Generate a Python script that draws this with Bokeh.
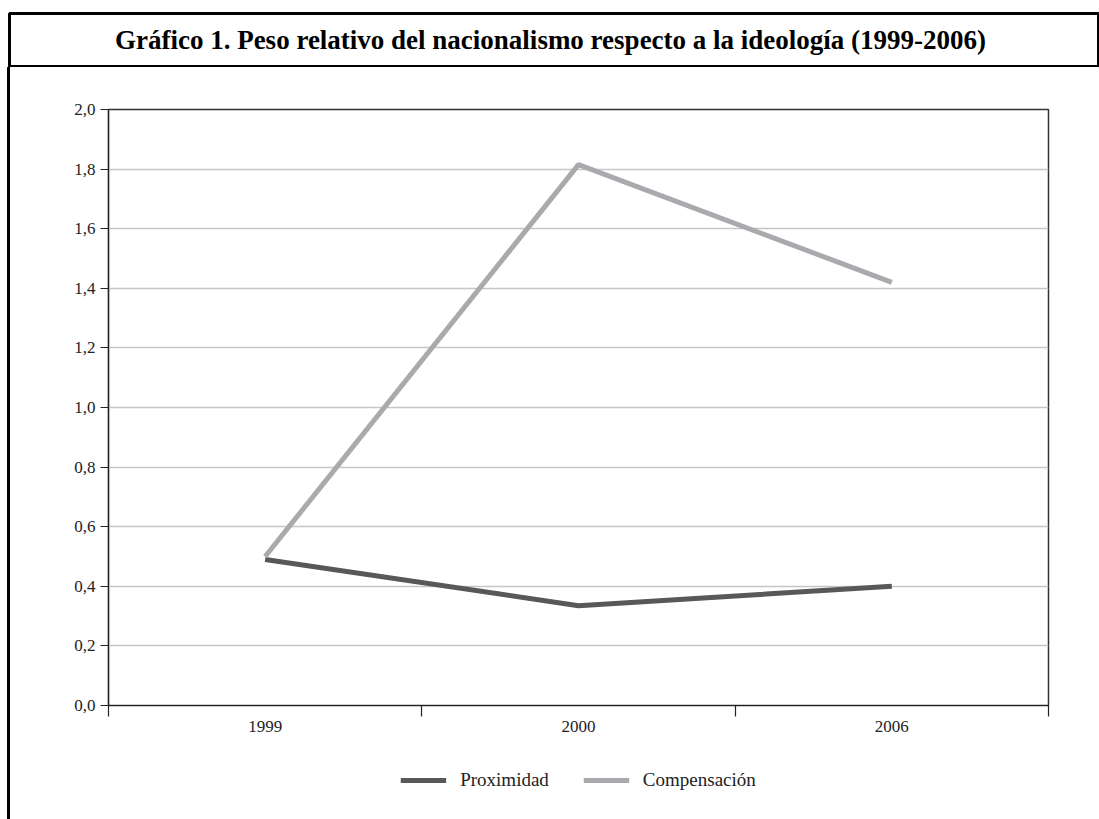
from bokeh.plotting import figure
from bokeh.layouts import column, row
from bokeh.models import (Range1d, FixedTicker, Legend, LegendItem, Label, Spacer)
from bokeh.embed import file_html
from bokeh.resources import INLINE

# ---- data ----
title_text = "Gráfico 1. Peso relativo del nacionalismo respecto a la ideología (1999-2006)"
years = ["1999", "2000", "2006"]
proximidad = [0.49, 0.335, 0.40]
compensacion = [0.50, 1.815, 1.42]
series_names = ["Proximidad", "Compensación"]
series_colors = ["#58585a", "#a9aaad"]
y_ticks = [0.0, 0.2, 0.4, 0.6, 0.8, 1.0, 1.2, 1.4, 1.6, 1.8, 2.0]
y_tick_labels = ["0,0", "0,2", "0,4", "0,6", "0,8", "1,0", "1,2", "1,4", "1,6", "1,8", "2,0"]

FONT = "Liberation Serif"
LINE_W = 5

# ---- title box ----
tf = figure(width=1099, height=67, output_backend="svg", toolbar_location=None,
            x_range=Range1d(0, 1), y_range=Range1d(0, 1),
            min_border_left=9, min_border_right=0, min_border_top=13, min_border_bottom=1)
tf.axis.visible = False
tf.grid.visible = False
tf.outline_line_color = "black"
tf.outline_line_width = 3
tf.background_fill_color = "white"
tf.border_fill_color = "white"
tf.add_layout(Label(x=0.5, y=0.5, x_offset=-4, text=title_text, text_align="center",
                    text_baseline="middle", text_font=FONT, text_font_size="27px",
                    text_font_style="bold", text_color="black"))

# ---- main chart ----
xs = [i + 0.5 for i in range(len(years))]
p = figure(width=1089, height=683, output_backend="svg", toolbar_location=None,
           x_range=Range1d(0, len(years)), y_range=Range1d(0, 2),
           min_border_left=98, min_border_right=51, min_border_top=42, min_border_bottom=45)
p.background_fill_color = "white"
p.border_fill_color = "white"
p.outline_line_color = "#333333"
p.outline_line_width = 1.5

p.xgrid.visible = False
p.ygrid.grid_line_color = "#c6c6c6"
p.ygrid.grid_line_width = 1.5
p.ygrid.ticker = FixedTicker(ticks=y_ticks)

# y axis
p.yaxis.ticker = FixedTicker(ticks=y_ticks)
p.yaxis.major_label_overrides = {t: l for t, l in zip(y_ticks, y_tick_labels)}
p.yaxis.major_tick_out = 8
p.yaxis.major_tick_in = 0
p.yaxis.minor_tick_out = 0
p.yaxis.minor_tick_in = 0
p.yaxis.axis_line_color = "#222222"
p.yaxis.axis_line_width = 1.2
p.yaxis.major_tick_line_color = "#222222"
p.yaxis.major_tick_line_width = 1.2
p.yaxis.major_label_text_font = FONT
p.yaxis.major_label_text_font_size = "17px"
p.yaxis.major_label_text_color = "#222222"
p.yaxis.major_label_standoff = 5

# x axis: labels at category centres, tick marks at category boundaries
p.xaxis.ticker = FixedTicker(ticks=xs, minor_ticks=list(range(len(years) + 1)))
p.xaxis.major_label_overrides = {x: y for x, y in zip(xs, years)}
p.xaxis.major_tick_out = 0
p.xaxis.major_tick_in = 0
p.xaxis.minor_tick_out = 11
p.xaxis.minor_tick_in = 0
p.xaxis.minor_tick_line_color = "#222222"
p.xaxis.minor_tick_line_width = 1.2
p.xaxis.axis_line_color = "#222222"
p.xaxis.axis_line_width = 1.2
p.xaxis.major_label_text_font = FONT
p.xaxis.major_label_text_font_size = "17px"
p.xaxis.major_label_text_color = "#222222"
p.xaxis.major_label_standoff = 4

p.line(xs, proximidad, line_color=series_colors[0], line_width=LINE_W)
p.line(xs, compensacion, line_color=series_colors[1], line_width=LINE_W)

# ---- legend strip: same series drawn outside its visible range, only keys show ----
lf = figure(width=1089, height=69, output_backend="svg", toolbar_location=None,
            x_range=Range1d(100, 101), y_range=Range1d(100, 101),
            min_border_left=98, min_border_right=51, min_border_top=0, min_border_bottom=9)
lf.axis.visible = False
lf.grid.visible = False
lf.outline_line_color = None
lf.background_fill_color = "white"
lf.border_fill_color = "white"
k1 = lf.line(xs, proximidad, line_color=series_colors[0], line_width=LINE_W)
k2 = lf.line(xs, compensacion, line_color=series_colors[1], line_width=LINE_W)
legend = Legend(items=[LegendItem(label=series_names[0], renderers=[k1]),
                       LegendItem(label=series_names[1], renderers=[k2])],
                orientation="horizontal", location="center")
legend.border_line_color = None
legend.background_fill_color = None
legend.label_text_font = FONT
legend.label_text_font_size = "19px"
legend.label_text_color = "#222222"
legend.glyph_width = 46
legend.spacing = 34
legend.label_standoff = 14
legend.padding = 0
legend.margin = 0
lf.add_layout(legend, "center")

# ---- left border bar ----
bar = Spacer(width=3, height=683 + 69, margin=(0, 0, 0, 7),
             styles={"background-color": "black"})

layout = column(tf, row(bar, column(p, lf, spacing=0), spacing=0), spacing=0)

open("out.html", "w").write(file_html(layout, INLINE))
